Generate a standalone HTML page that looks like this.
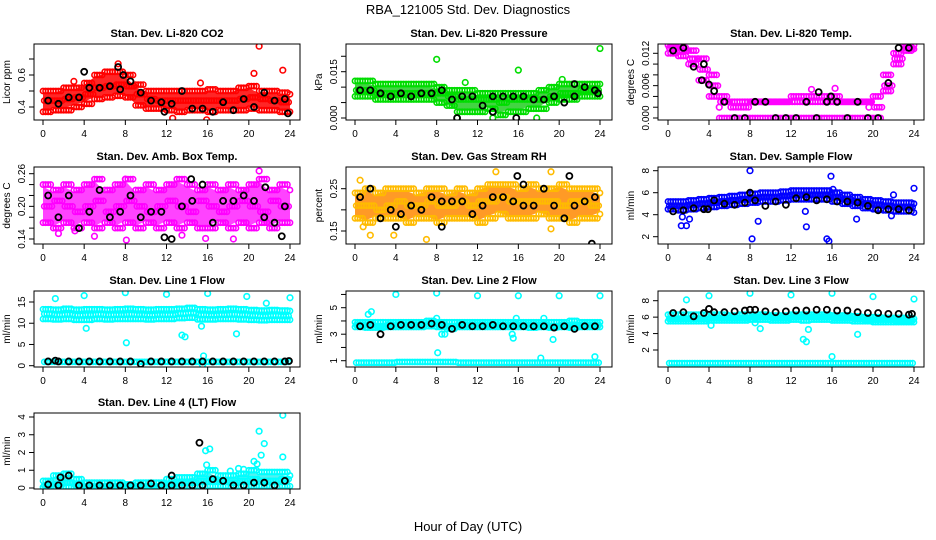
<!DOCTYPE html>
<html><head><meta charset="utf-8"><style>
html,body{margin:0;padding:0;background:#fff;}
svg{display:block;font-family:"Liberation Sans",sans-serif;}
</style></head><body>
<svg id="chart" width="936" height="540" viewBox="0 0 936 540">
<text x="468" y="14" text-anchor="middle" font-size="13">RBA_121005  Std. Dev. Diagnostics</text>
<text x="468" y="531" text-anchor="middle" font-size="13">Hour of Day (UTC)</text>
</svg>
<script>
// ---- data ----
const hourTicks=[0,4,8,12,16,20,24];
const co2Hi=[0.50,0.50,0.52,0.52,0.55,0.60,0.62,0.62,0.60,0.54,0.50,0.50,0.50,0.50,0.50,0.50,0.51,0.50,0.50,0.52,0.53,0.50,0.50,0.49,0.48];
const co2Mid=[0.44,0.44,0.45,0.46,0.48,0.52,0.53,0.54,0.53,0.48,0.45,0.44,0.44,0.44,0.44,0.44,0.44,0.44,0.44,0.45,0.46,0.45,0.44,0.43,0.43];
const co2Lo=[0.37,0.38,0.38,0.40,0.42,0.45,0.46,0.47,0.46,0.41,0.39,0.39,0.38,0.37,0.38,0.38,0.37,0.38,0.38,0.38,0.39,0.38,0.38,0.37,0.37];
const co2Out=[[21,0.78],[20.5,0.61],[23.3,0.63],[7.3,0.67],[15.9,0.32],[12.6,0.33],[3,0.56],[15.3,0.55]];
const co2Black=[0.44,0.42,0.46,0.46,0.52,0.52,0.53,0.51,0.56,0.49,0.44,0.43,0.42,0.50,0.39,0.39,0.37,0.43,0.38,0.45,0.40,0.49,0.44,0.45];
const co2BlackOut=[[4,0.62],[7.3,0.65],[23.8,0.36],[11.8,0.37],[7.8,0.6]];

const presHi=[0.012,0.012,0.011,0.011,0.011,0.011,0.011,0.011,0.010,0.009,0.009,0.009,0.008,0.008,0.008,0.008,0.008,0.008,0.009,0.010,0.011,0.011,0.011,0.011,0.011];
const presMid=[0.009,0.009,0.008,0.008,0.008,0.008,0.008,0.008,0.008,0.007,0.006,0.006,0.006,0.006,0.005,0.006,0.006,0.006,0.006,0.007,0.008,0.008,0.009,0.009,0.009];
const presLo=[0.007,0.007,0.006,0.006,0.006,0.006,0.006,0.006,0.005,0.004,0.002,0.002,0.002,0.003,0.001,0.002,0.002,0.003,0.003,0.005,0.006,0.006,0.007,0.007,0.007];
const presOut=[[8,0.019],[16,0.0155],[24,0.0225],[10.8,0.0115],[20.3,0.0125],[10,0],[13.5,0],[17.8,0]];
const presBlack=[0.009,0.009,0.008,0.007,0.008,0.007,0.008,0.008,0.009,0.006,0.007,0.007,0.004,0.007,0.007,0.007,0.007,0.006,0.006,0.007,0.005,0.007,0.010,0.009];
const presBlackOut=[[10,0],[15.8,0],[13.5,0.002],[21.5,0.011],[23.8,0.008]];

const tmpHi=[0.0135,0.013,0.0125,0.011,0.008,0.004,0.003,0.003,0.003,0.003,0.003,0.003,0.004,0.004,0.004,0.004,0.004,0.003,0.003,0.003,0.004,0.008,0.012,0.0132,0.0135];
const tmpMid=[0.013,0.0125,0.011,0.009,0.006,0.003,0.002,0.002,0.003,0.003,0.003,0.003,0.003,0.003,0.003,0.003,0.003,0.003,0.003,0.003,0.002,0.006,0.011,0.013,0.013];
const tmpLo=[0.012,0.0115,0.010,0.007,0.004,0,0,0,0,0,0,0,0,0,0,0,0,0,0,0,0,0.005,0.010,0.0125,0.0128];
const tmpOut=[[14,0.0053],[16.3,0.0055],[5,0.002],[19.6,0.002]];
const tmpBlack=[0.0125,0.013,0.0095,0.010,0.005,0.003,0,0,0.003,0.003,0,0,0,0.003,0,0.003,0.003,0,0.003,0,0,0.0065,0.013,0.013];
const tmpBlackOut=[[14.7,0.0048],[15.9,0.004],[3.3,0.007],[4,0.0062]];

const ambHi=[0.24,0.23,0.24,0.23,0.24,0.25,0.23,0.24,0.25,0.23,0.24,0.23,0.24,0.25,0.24,0.23,0.24,0.23,0.24,0.23,0.24,0.25,0.23,0.24,0.23];
const ambMid=[0.20,0.21,0.20,0.19,0.20,0.21,0.19,0.20,0.21,0.20,0.19,0.20,0.21,0.20,0.19,0.21,0.20,0.19,0.20,0.21,0.20,0.19,0.21,0.20,0.20];
const ambLo=[0.17,0.16,0.17,0.16,0.17,0.16,0.17,0.16,0.17,0.16,0.17,0.16,0.17,0.16,0.17,0.16,0.16,0.17,0.16,0.17,0.16,0.17,0.16,0.17,0.17];
const ambOut=[[21,0.265],[1.5,0.15],[8,0.25],[18.5,0.14],[3.1,0.155],[5,0.145],[8.1,0.138],[15.8,0.141],[13.5,0.147]];
const ambBlack=[0.22,0.18,0.22,0.16,0.19,0.23,0.18,0.19,0.22,0.18,0.19,0.19,0.14,0.20,0.21,0.24,0.17,0.21,0.21,0.22,0.21,0.18,0.17,0.20];
const ambBlackOut=[[14.4,0.25],[11.8,0.143],[23.2,0.145],[21.6,0.235]];

const rhHi=[0.24,0.25,0.24,0.25,0.25,0.25,0.24,0.25,0.25,0.24,0.25,0.24,0.25,0.26,0.26,0.26,0.25,0.26,0.25,0.25,0.26,0.25,0.25,0.25,0.24];
const rhMid=[0.21,0.21,0.20,0.21,0.22,0.21,0.21,0.22,0.21,0.21,0.22,0.21,0.22,0.22,0.23,0.22,0.22,0.22,0.22,0.22,0.21,0.22,0.22,0.21,0.22];
const rhLo=[0.18,0.17,0.18,0.18,0.18,0.17,0.18,0.18,0.17,0.18,0.18,0.18,0.17,0.18,0.19,0.18,0.18,0.18,0.19,0.18,0.18,0.17,0.18,0.18,0.19];
const rhOut=[[0.5,0.27],[1.5,0.14],[7,0.13],[13.8,0.29],[19.2,0.29],[19.2,0.155],[3.8,0.14],[0.8,0.16]];
const rhBlack=[0.23,0.25,0.18,0.20,0.19,0.21,0.20,0.23,0.22,0.22,0.22,0.19,0.21,0.23,0.23,0.22,0.21,0.21,0.25,0.21,0.18,0.21,0.22,0.23];
const rhBlackOut=[[23.2,0.12],[21,0.28],[15.9,0.28],[8.5,0.16],[4,0.16],[16.5,0.26]];

const sfHi=[5.2,5.2,5.3,5.4,5.5,5.6,5.7,5.8,5.9,6.0,6.0,6.1,6.2,6.2,6.2,6.2,6.0,5.8,5.6,5.4,5.3,5.2,5.1,5.1,5.0];
const sfMid=[4.8,4.8,4.9,5.0,5.1,5.2,5.3,5.4,5.5,5.6,5.6,5.7,5.8,5.8,5.8,5.8,5.6,5.4,5.2,5.0,4.9,4.8,4.7,4.7,4.6];
const sfLo=[4.5,4.4,4.5,4.6,4.7,4.8,4.9,5.0,5.1,5.2,5.2,5.3,5.4,5.4,5.4,5.4,5.2,5.0,4.8,4.6,4.5,4.4,4.3,4.3,4.2];
const sfOut=[[1.3,3],[1.8,3],[2.1,3.6],[8,8],[8.2,1.8],[8.8,3.4],[13.5,2.9],[13.4,4.3],[15.5,1.8],[15.7,1.6],[15.9,7.5],[16.1,6.3],[18.4,3.6],[22,5.8],[24,6.4],[21.8,3.9],[1.4,3.8]];
const sfBlack=[4.3,4.4,4.6,4.5,5.3,5.0,4.9,5.1,5.3,4.8,5.2,4.9,5.5,5.6,5.3,5.4,5.2,5.2,5.1,4.8,4.4,4.5,4.5,4.4];
const sfBlackOut=[[8,6.0],[3.9,4.5]];

const l1Hi=[13.3,13.2,13.4,13.2,13.3,13.3,13.2,13.3,13.4,13.3,13.2,13.3,13.3,13.4,13.6,13.3,13.2,13.3,13.4,13.3,13.1,13.0,13.1,13.0,12.9];
const l1Mid=[12.2,12.0,12.1,11.9,12.0,12.1,12.0,12.0,12.1,12.0,11.9,12.0,12.0,12.3,12.4,12.0,11.9,12.0,12.1,12.0,11.8,11.7,11.8,11.7,11.6];
const l1Lo=[11.0,10.9,11.0,10.8,10.8,11.0,10.9,11.0,11.0,11.0,10.9,11.0,11.0,11.2,11.3,10.9,10.9,11.0,11.0,10.9,10.8,10.7,10.8,10.8,10.8];
const l1Base=[0.9,0.9,0.9,0.9,0.9,0.9,0.9,0.9,0.9,0.9,0.9,0.9,0.9,0.9,0.9,0.9,0.9,0.9,0.9,0.9,0.9,0.9,0.9,0.9,0.9];
const l1Out=[[1.2,15.8],[4,16.5],[8,17.2],[12,16.8],[16,17],[19.8,16.3],[21.7,14.7],[24,16],[4.2,8.8],[8.1,5.4],[13.5,7.2],[13.8,6.8],[15.4,9.3],[18.8,7.5],[15.6,2.3],[15.5,0.2]];
const l1Black=[1.0,1.0,1.0,1.0,1.0,1.0,1.0,1.0,1.0,0.4,1.0,1.0,1.0,1.0,1.0,1.0,1.0,1.0,1.0,1.0,1.0,1.0,1.0,1.0];
const l1BlackOut=[[23.9,1.1],[1.2,1.2]];

const l2Hi=[3.9,3.9,3.9,3.9,3.9,3.9,3.9,4.0,3.9,3.9,3.9,3.9,3.9,3.9,3.9,3.9,3.9,3.9,3.9,3.9,3.9,4.0,3.9,3.9,3.9];
const l2Mid=[3.7,3.7,3.6,3.7,3.7,3.7,3.7,3.8,3.7,3.6,3.7,3.7,3.7,3.7,3.7,3.7,3.7,3.7,3.7,3.6,3.7,3.7,3.7,3.7,3.7];
const l2Lo=[3.55,3.5,3.5,3.55,3.55,3.55,3.55,3.6,3.55,3.4,3.55,3.55,3.55,3.55,3.55,3.55,3.55,3.5,3.55,3.5,3.55,3.5,3.55,3.55,3.55];
const l2Base=[0.85,0.85,0.85,0.85,0.9,0.9,0.9,0.9,0.9,0.9,0.85,0.85,0.85,0.85,0.85,0.85,0.85,0.85,0.85,0.85,0.85,0.85,0.85,0.85,0.85];
const l2Out=[[4,6],[8,6.1],[12,5.9],[16,5.9],[20,5.9],[24,5.9],[1.3,4.5],[1.6,4.7],[8,4.2],[8.1,1.6],[8.5,3],[8.8,3],[15.8,4.2],[15.4,3],[15.5,2.7],[18.5,4.2],[19.4,2.6],[23.5,1.3],[18.2,1.2]];
const l2Black=[3.6,3.7,3.0,3.6,3.7,3.7,3.7,3.8,3.7,3.4,3.7,3.6,3.6,3.7,3.6,3.6,3.6,3.6,3.6,3.5,3.6,3.4,3.6,3.6];

const l3Hi=[6.3,6.3,6.3,6.3,6.3,6.3,6.2,6.3,6.3,6.3,6.2,6.2,6.3,6.3,6.3,6.3,6.2,6.2,6.1,6.0,6.0,5.9,5.9,5.9,5.8];
const l3Mid=[5.8,5.8,5.8,5.8,5.9,5.9,5.9,5.9,6.0,6.0,5.9,5.9,6.0,6.0,6.0,6.0,5.9,5.9,5.8,5.7,5.7,5.7,5.6,5.6,5.6];
const l3Lo=[5.5,5.5,5.5,5.5,5.6,5.6,5.6,5.6,5.7,5.7,5.6,5.6,5.7,5.6,5.7,5.7,5.6,5.6,5.5,5.5,5.4,5.4,5.4,5.4,5.4];
const l3Base=[0.4,0.4,0.4,0.4,0.4,0.4,0.4,0.4,0.4,0.4,0.4,0.4,0.4,0.4,0.4,0.4,0.4,0.4,0.4,0.4,0.4,0.4,0.4,0.4,0.4];
const l3Out=[[1.8,8.1],[4,8.6],[8,8.9],[12,8.7],[16,8.9],[20,8.5],[24,8.2],[4.2,5.0],[8.5,5.3],[9,4.6],[13.2,3.3],[13.5,3.0],[13.7,4.5],[18.5,3.9],[16,1.2]];
const l3Black=[6.5,6.6,6.1,6.5,6.6,6.6,6.7,6.8,6.9,6.7,6.6,6.7,6.8,6.8,6.9,6.9,6.8,6.8,6.6,6.5,6.5,6.4,6.4,6.3];
const l3BlackOut=[[4,7.0],[8,6.9],[23.8,6.4]];

const l4Hi=[0.4,0.7,0.8,0.5,0.3,0.3,0.3,0.3,0.2,0.3,0.3,0.3,0.5,0.6,0.6,0.8,1.0,0.7,0.7,0.8,1.0,0.9,0.9,0.9,0.7];
const l4Mid=[0.15,0.2,0.3,0.15,0.1,0.1,0.1,0.1,0.1,0.1,0.1,0.1,0.2,0.3,0.3,0.4,0.5,0.4,0.3,0.4,0.5,0.4,0.4,0.5,0.3];
const l4Lo=[0.05,0.05,0.05,0.05,0.05,0.05,0.05,0.05,0.05,0.05,0.05,0.05,0.05,0.1,0.1,0.1,0.1,0.1,0.1,0.1,0.1,0.1,0.1,0.1,0.1];
const l4Out=[[23.3,4.1],[21,3.2],[21.5,2.5],[21.2,1.85],[23.3,1.75],[15.8,2.1],[16.2,2.2],[15.9,1.3],[20.5,1.5],[20.8,1.35],[19,1.1],[19.5,1.05],[18.2,0.95]];
const l4Black=[0.2,0.15,0.7,0.15,0.15,0.15,0.15,0.15,0.15,0.15,0.25,0.15,0.15,0.15,0.15,0.15,0.5,0.4,0.15,0.15,0.3,0.3,0.15,0.4];
const l4BlackOut=[[15.2,2.55],[1.7,0.6],[12.5,0.7]];

// ---- layout ----
const NS="http://www.w3.org/2000/svg";
const svg=document.getElementById('chart');
const cols=[{L:34,R:300,x0:43,x24:290},{L:346,R:612,x0:355,x24:600},{L:658,R:924,x0:668,x24:914}];
const rows=[{T:44,B:120},{T:167,B:244},{T:291,B:367},{T:413,B:489}];
function mk(tag,attrs,parent){const e=document.createElementNS(NS,tag);for(const k in attrs)e.setAttribute(k,attrs[k]);(parent||svg).appendChild(e);return e;}

const panels=[
 {id:'co2',title:'Stan. Dev. Li-820 CO2',yl:'Licor ppm',c:0,r:0,ya:[0.4,107,0.6,75],ticks:[0.4,0.5,0.6,0.7],labs:[0.4,0.6],fmt:v=>v.toFixed(1),
  clouds:[{d:[co2Hi,co2Mid,co2Lo],col:'#ff0000',band:'#ff0000'}],out:co2Out,oc:'#ff0000',blk:co2Black,bo:co2BlackOut},
 {id:'pressure',title:'Stan. Dev. Li-820 Pressure',yl:'kPa',c:1,r:0,ya:[0,118,0.015,71.7],ticks:[0,0.005,0.01,0.015,0.02],labs:[0,0.015],fmt:v=>v.toFixed(3),
  clouds:[{d:[presHi,presMid,presLo],col:'#00dd00',band:'#22cc22'}],out:presOut,oc:'#00dd00',blk:presBlack,bo:presBlackOut},
 {id:'li820-temp',title:'Stan. Dev. Li-820 Temp.',yl:'degrees C',c:2,r:0,ya:[0,118,0.012,53.3],ticks:[0,0.002,0.004,0.006,0.008,0.01,0.012],labs:[0,0.006,0.012],fmt:v=>v.toFixed(3),
  clouds:[{d:[tmpHi,tmpMid,tmpLo],col:'#ff00ff',band:null}],out:tmpOut,oc:'#ff00ff',blk:tmpBlack,bo:tmpBlackOut},
 {id:'amb-box-temp',title:'Stan. Dev. Amb. Box Temp.',yl:'degrees C',c:0,r:1,ya:[0.14,239,0.26,173.7],ticks:[0.14,0.16,0.18,0.2,0.22,0.24,0.26],labs:[0.14,0.2,0.26],fmt:v=>v.toFixed(2),
  clouds:[{d:[ambHi,ambMid,ambLo],col:'#ff00ff',band:'#ff22ff'}],out:ambOut,oc:'#ff00ff',blk:ambBlack,bo:ambBlackOut},
 {id:'gas-rh',title:'Stan. Dev. Gas Stream RH',yl:'percent',c:1,r:1,ya:[0.15,231,0.25,188.7],ticks:[0.15,0.2,0.25],labs:[0.15,0.25],fmt:v=>v.toFixed(2),
  clouds:[{d:[rhHi,rhMid,rhLo],col:'#ffbb00',band:'#ff8800'}],out:rhOut,oc:'#ffbb00',blk:rhBlack,bo:rhBlackOut},
 {id:'sample-flow',title:'Stan. Dev. Sample Flow',yl:'ml/min',c:2,r:1,ya:[2,236.7,8,170.7],ticks:[2,4,6,8],labs:[2,4,6,8],fmt:v=>String(v),
  clouds:[{d:[sfHi,sfMid,sfLo],col:'#0000ff',band:'#0000ee'}],out:sfOut,oc:'#0000ff',blk:sfBlack,bo:sfBlackOut},
 {id:'line1-flow',title:'Stan. Dev. Line 1 Flow',yl:'ml/min',c:0,r:2,ya:[0,365.7,15,302],ticks:[0,5,10,15],labs:[0,5,10,15],fmt:v=>String(v),
  clouds:[{d:[l1Hi,l1Mid,l1Lo,l1Base],col:'#00ffff',band:null}],out:l1Out,oc:'#00ffff',blk:l1Black,bo:l1BlackOut},
 {id:'line2-flow',title:'Stan. Dev. Line 2 Flow',yl:'ml/min',c:1,r:2,ya:[1,360.7,5,307.7],ticks:[1,2,3,4,5,6],labs:[1,3,5],fmt:v=>String(v),
  clouds:[{d:[l2Hi,l2Mid,l2Lo,l2Base],col:'#00ffff',band:'#22eeee'}],out:l2Out,oc:'#00ffff',blk:l2Black,bo:[]},
 {id:'line3-flow',title:'Stan. Dev. Line 3 Flow',yl:'ml/min',c:2,r:2,ya:[2,350,8,300.7],ticks:[2,4,6,8],labs:[2,4,6,8],fmt:v=>String(v),
  clouds:[{d:[l3Hi,l3Mid,l3Lo,l3Base],col:'#00ffff',band:'#22eeee'}],out:l3Out,oc:'#00ffff',blk:l3Black,bo:l3BlackOut},
 {id:'line4-flow',title:'Stan. Dev. Line 4 (LT) Flow',yl:'ml/min',c:0,r:3,ya:[0,488,4,417],ticks:[0,1,2,3,4],labs:[0,1,2,3,4],fmt:v=>String(v),
  clouds:[{d:[l4Hi,l4Mid,l4Lo],col:'#00ffff',band:'#33eeee'}],out:l4Out,oc:'#00ffff',blk:l4Black,bo:l4BlackOut}
];

const offsets=[0,0.25,0.5,0.75];
panels.forEach(p=>{
  const C=cols[p.c],R=rows[p.r];
  const xs=h=>C.x0+(C.x24-C.x0)*h/24;
  const ys=v=>p.ya[1]+(v-p.ya[0])*(p.ya[3]-p.ya[1])/(p.ya[2]-p.ya[0]);
  const g=mk('g',{});
  
  
  const t=mk('text',{x:(C.L+C.R)/2,y:R.T-7,'text-anchor':'middle','font-size':'11','font-weight':'bold'},g);
  t.textContent=p.title;
  
  
  const clip='clip-'+p.id;
  const cp=mk('clipPath',{id:clip},g);mk('rect',{x:C.L,y:R.T,width:C.R-C.L,height:R.B-R.T},cp);
  const pts=mk('g',{'clip-path':'url(#'+clip+')'},g);
  
  
  p.clouds.forEach(cl=>{
    if(cl.band){
      const hi=cl.d[0],lo=cl.d[2];
      let dd='';
      hi.forEach((v,i)=>{dd+=(i?'L':'M')+xs(i).toFixed(1)+' '+(ys(v)+2).toFixed(1);});
      for(let i=lo.length-1;i>=0;i--){dd+='L'+xs(i).toFixed(1)+' '+(ys(lo[i])-2).toFixed(1);}
      const band=mk('path',{d:dd+'Z',fill:cl.band,'fill-opacity':0.85,stroke:'none'},pts);
      
      
    }
    cl.d.forEach((arr,ai)=>{
      arr.forEach((v,i)=>{
        offsets.forEach((o,oi)=>{
          const h=i+o+(ai%2)*0.12; if(h>24)return;
          const c=mk('circle',{cx:xs(h),cy:ys(v),r:2.6,fill:'none',stroke:cl.col,'stroke-width':1.6},pts);
          
          
        });
      });
    });
  });
  p.out.forEach(d=>{
    const c=mk('circle',{cx:xs(d[0]),cy:ys(d[1]),r:2.8,fill:'none',stroke:p.oc,'stroke-width':1.6},pts);
    
    
  });
  const blks=p.blk.map((v,i)=>[i+0.5,v]).concat(p.bo);
  blks.forEach(d=>{
    const c=mk('circle',{cx:xs(d[0]),cy:ys(d[1]),r:3,fill:'none',stroke:'#000','stroke-width':1.8},pts);
    
    
  });
  const box=mk('rect',{x:C.L,y:R.T,width:C.R-C.L,height:R.B-R.T,fill:'none',stroke:'#000','stroke-width':1},g);
  
  
  const xa=mk('g',{},g);
  
  
  hourTicks.forEach(h=>{
    mk('line',{x1:xs(h),x2:xs(h),y1:R.B,y2:R.B+5,stroke:'#000'},xa);
    const tl=mk('text',{x:xs(h),y:R.B+17,'text-anchor':'middle','font-size':'10'},xa);
    tl.textContent=h;
    
    
  });
  const ya=mk('g',{},g);
  
  
  p.ticks.forEach(v=>{mk('line',{x1:C.L-5,x2:C.L,y1:ys(v),y2:ys(v),stroke:'#000'},ya);});
  p.labs.forEach(v=>{
    const yy=ys(v),xx=C.L-9;
    const tl=mk('text',{x:xx,y:yy,'text-anchor':'middle','font-size':'10',transform:'rotate(-90 '+xx+' '+yy+')'},ya);
    tl.textContent=p.fmt(v);
    
    
  });
  const yx=C.L-24,yy=(R.T+R.B)/2;
  const yt=mk('text',{x:yx,y:yy,'text-anchor':'middle','font-size':'10',transform:'rotate(-90 '+yx+' '+yy+')'},g);
  yt.textContent=p.yl;
  
  
});
</script>
</body></html>
